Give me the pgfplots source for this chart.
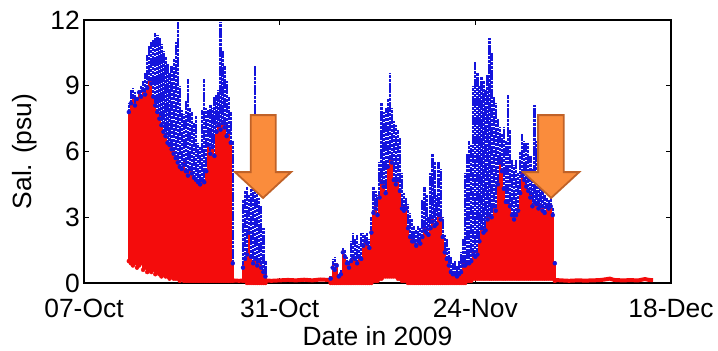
\documentclass[border=0pt]{standalone}
\usepackage{fontspec}
\setmainfont{Liberation Sans}
\usepackage{pgfplots}
\pgfplotsset{compat=1.18}
\usepackage{pgfplotstable}
\usetikzlibrary{calc}

\definecolor{salblue}{RGB}{20,20,220}
\definecolor{salred}{RGB}{244,12,12}
\definecolor{arrowfill}{RGB}{250,140,60}
\definecolor{arrowedge}{RGB}{192,98,40}

% Salinity spread per time step: day since 07-Oct, lower bound,
% upper bound of the red record, upper bound of the blue record
\pgfplotstableread{
d lo r b
5.50 1.0 7.9 8.2
5.75 0.9 8.3 8.8
6.00 0.8 8.6 8.9
6.25 0.9 8.2 8.7
6.50 0.7 8.5 8.4
6.75 0.8 8.8 8.6
7.00 0.9 8.6 9.0
7.25 0.6 8.9 9.2
7.50 0.7 8.7 9.6
7.75 0.5 9.0 10.4
8.00 0.6 9.4 10.8
8.25 0.5 9.2 11.0
8.50 0.6 8.6 11.1
8.75 0.4 8.2 11.4
9.00 0.5 7.9 11.3
9.25 0.4 7.6 11.2
9.50 0.3 7.3 10.9
9.75 0.4 7.0 10.6
10.00 0.3 6.8 10.3
10.25 0.3 6.5 10.0
10.50 0.2 6.4 9.6
10.75 0.3 6.2 9.9
11.00 0.2 6.0 10.2
11.25 0.2 5.8 11.0
11.50 0.2 5.6 11.9
11.75 0.1 5.4 9.0
12.00 0.2 5.3 7.9
12.25 0.1 5.5 7.7
12.50 0.1 5.2 8.3
12.75 0.1 5.0 9.3
13.00 0.1 5.3 8.0
13.25 0.1 5.1 7.8
13.50 0.1 4.9 7.3
13.75 0.1 4.8 7.6
14.00 0.1 4.7 6.4
14.25 0.1 4.6 6.2
14.50 0.1 4.8 7.9
14.75 0.1 4.7 9.3
15.00 0.1 5.2 8.0
15.25 0.1 6.4 7.9
15.50 0.1 6.0 8.1
15.75 0.1 6.3 8.0
16.00 0.1 5.9 8.5
16.25 0.1 7.0 8.6
16.50 0.1 7.3 8.8
16.75 0.1 7.1 11.9
17.00 0.1 7.4 10.6
17.25 0.1 7.2 9.9
17.50 0.1 6.8 9.2
17.75 0.1 7.0 8.5
18.00 0.1 6.5 7.8
18.25 0.1 1.0 6.5
19.50 0.1 0.8 3.8
19.75 0.1 1.2 4.2
20.00 0.0 1.4 4.4
20.25 0.0 2.4 4.0
20.50 0.0 1.3 4.3
20.75 0.0 1.0 6.5
21.00 0.0 1.2 9.9
21.25 0.0 0.9 4.2
21.50 0.0 1.1 3.9
21.75 0.0 0.8 3.5
22.00 0.0 0.6 2.5
22.25 0.0 0.4 1.0
30.25 0.0 0.3 0.3
30.50 0.0 0.8 1.1
30.75 0.0 0.7 1.2
31.00 0.0 0.9 0.9
31.25 0.0 0.4 0.4
31.50 0.0 0.5 0.6
31.75 0.0 1.5 1.6
32.00 0.0 1.3 1.5
32.25 0.0 1.0 1.2
32.50 0.0 0.8 1.0
32.75 0.0 1.1 1.9
33.00 0.0 1.3 2.3
33.25 0.0 1.2 2.0
33.50 0.0 1.0 2.2
33.75 0.0 1.3 1.8
34.00 0.0 1.2 2.3
34.25 0.0 1.8 2.3
34.50 0.0 2.0 2.2
34.75 0.0 1.9 2.3
35.00 0.0 1.7 2.0
35.25 0.0 2.4 3.0
35.50 0.1 3.3 4.4
35.75 0.1 3.5 4.2
36.00 0.1 3.2 4.0
36.25 0.2 4.0 5.5
36.50 0.2 4.7 8.2
36.75 0.3 4.5 7.8
37.00 0.3 4.2 8.0
37.25 0.3 5.4 8.4
37.50 0.3 5.8 9.6
37.75 0.3 5.6 8.0
38.00 0.3 4.8 7.4
38.25 0.3 4.6 7.2
38.50 0.2 4.8 7.0
38.75 0.2 4.3 6.6
39.00 0.1 3.5 5.0
39.25 0.1 3.4 4.1
39.50 0.1 3.5 3.9
39.75 0.0 2.6 3.6
40.00 0.0 2.2 3.2
40.25 0.0 2.0 2.9
40.50 0.0 2.0 2.6
40.75 0.0 1.8 2.4
41.00 0.0 2.0 2.6
41.25 0.0 1.9 2.5
41.50 0.0 2.2 3.8
41.75 0.0 2.5 4.4
42.00 0.0 2.4 4.0
42.25 0.0 2.3 3.0
42.50 0.0 2.6 5.0
42.75 0.0 2.9 5.9
43.00 0.0 2.7 5.5
43.25 0.0 2.8 4.0
43.50 0.0 3.2 5.5
43.75 0.0 3.0 5.2
44.00 0.0 2.2 3.0
44.25 0.0 1.5 2.2
44.50 0.0 1.2 2.0
44.75 0.0 0.9 1.6
45.00 0.0 0.6 1.2
45.25 0.0 0.5 0.9
45.50 0.0 0.5 1.0
45.75 0.0 0.4 0.8
46.00 0.0 0.5 1.0
46.25 0.0 0.6 1.4
46.50 0.0 0.9 2.0
46.75 0.0 0.9 5.0
47.00 0.1 1.0 5.9
47.25 0.1 1.0 6.5
47.50 0.1 1.1 6.3
47.75 0.2 1.4 9.0
48.00 0.2 1.3 10.1
48.25 0.2 1.4 9.6
48.50 0.2 2.0 9.0
48.75 0.2 2.6 9.4
49.00 0.2 2.4 9.2
49.25 0.2 2.5 8.8
49.50 0.2 3.0 9.5
49.75 0.2 3.2 11.2
50.00 0.2 3.1 10.5
50.25 0.2 3.6 8.5
50.50 0.2 3.4 8.2
50.75 0.2 4.6 7.5
51.00 0.2 5.6 7.1
51.25 0.2 5.2 6.8
51.50 0.2 4.4 7.1
51.75 0.2 3.8 6.5
52.00 0.2 3.8 8.6
52.25 0.2 3.6 7.0
52.50 0.2 3.2 5.6
52.75 0.2 3.0 5.4
53.00 0.2 3.2 5.6
53.25 0.2 3.4 5.0
53.50 0.2 4.2 6.0
53.75 0.2 5.0 6.8
54.00 0.2 4.8 6.5
54.25 0.2 4.5 6.4
54.50 0.2 4.3 6.4
54.75 0.2 4.0 5.8
55.00 0.2 3.6 5.2
55.25 0.2 3.8 8.1
55.50 0.2 3.7 6.5
55.75 0.2 3.5 5.0
56.00 0.2 3.6 4.4
56.25 0.2 3.4 4.2
56.50 0.2 3.3 4.0
56.75 0.2 3.6 3.9
57.00 0.2 3.5 3.8
57.25 0.2 3.6 3.9
57.50 0.2 3.2 3.4
57.75 0.1 1.0 1.0
}\saltable

\pgfplotsset{
  every tick label/.append style={font=\fontsize{26.5}{31}\selectfont},
  every axis label/.append style={font=\fontsize{26.5}{31}\selectfont},
}

\begin{document}
\begin{tikzpicture}
\begin{axis}[
  scale only axis,
  width=587bp, height=263bp,
  xmin=0, xmax=72, ymin=0, ymax=12,
  xtick={0,24,48,72},
  xticklabels={07-Oct,31-Oct,24-Nov,18-Dec},
  ytick={0,3,6,9,12},
  /pgf/number format/assume math mode=true,
  tick align=inside,
  major tick length=5bp,
  every tick/.style={black, line width=1.4bp},
  axis line style={black, line width=2bp},
  xticklabel style={anchor=base, yshift=-34bp},
  yticklabel style={anchor=east, inner sep=0pt, xshift=-4bp},
  xlabel={Date in 2009},
  ylabel={Sal. (psu)},
  xlabel style={at={(axis description cs:0.5,-0.2395)}, anchor=base},
  ylabel style={at={(axis description cs:-0.0886,0.5)}, anchor=base},
  clip=true,
]
% blue record: the part of each column that rises above the red record
\addplot[salblue, only marks, mark=none,
  error bars/.cd, y dir=plus, y explicit, error mark=none,
  error bar style={draw=salblue, line width=2.3bp,
    dash pattern=on 3.2bp off 0.6bp}]
  table[x=d, y expr=\thisrow{r}-0.1, y error expr=\thisrow{b}-\thisrow{r}+0.1]
  {\saltable};
% red record
\addplot[salred, only marks, mark=none,
  error bars/.cd, y dir=plus, y explicit, error mark=none,
  error bar style={draw=salred, line width=2.3bp}]
  table[x=d, y=lo, y error expr=\thisrow{r}-\thisrow{lo}] {\saltable};
% near-fresh periods
\addplot[salred, line width=4bp, mark=none] coordinates {
  (18.2,0.12) (19.0,0.10) (20.0,0.12) (21.0,0.14) (22.0,0.12) (23.0,0.10)
  (24.0,0.12) (25.0,0.14) (26.0,0.12) (27.0,0.15) (28.0,0.12) (29.0,0.16)
  (30.0,0.14) (30.5,0.15)};
\addplot[salred, line width=4bp, mark=none] coordinates {
  (57.7,0.14) (58.5,0.12) (59.5,0.10) (60.5,0.12) (61.5,0.11) (62.5,0.12)
  (63.5,0.14) (64.5,0.20) (65.0,0.14) (66.0,0.12) (67.0,0.13) (68.0,0.12)
  (68.8,0.18) (69.3,0.14) (69.8,0.13)};
% arrows marking the two events
\draw[arrowedge, fill=arrowfill, line width=1.8bp, line join=miter]
  (axis cs:20.45,7.66) -- (axis cs:23.51,7.66) -- (axis cs:23.51,5.06)
  -- (axis cs:25.40,5.06) -- (axis cs:21.96,3.88) -- (axis cs:18.52,5.06)
  -- (axis cs:20.45,5.06) -- cycle;
\draw[arrowedge, fill=arrowfill, line width=1.8bp, line join=miter]
  (axis cs:55.70,7.66) -- (axis cs:58.85,7.66) -- (axis cs:58.85,5.06)
  -- (axis cs:60.74,5.06) -- (axis cs:57.30,3.88) -- (axis cs:53.86,5.06)
  -- (axis cs:55.70,5.06) -- cycle;
\end{axis}
\pgfresetboundingbox
\path[use as bounding box] ($(current axis.south west)+(-84bp,-68bp)$)
  rectangle ($(current axis.north east)+(47bp,20bp)$);
\end{tikzpicture}
\end{document}
